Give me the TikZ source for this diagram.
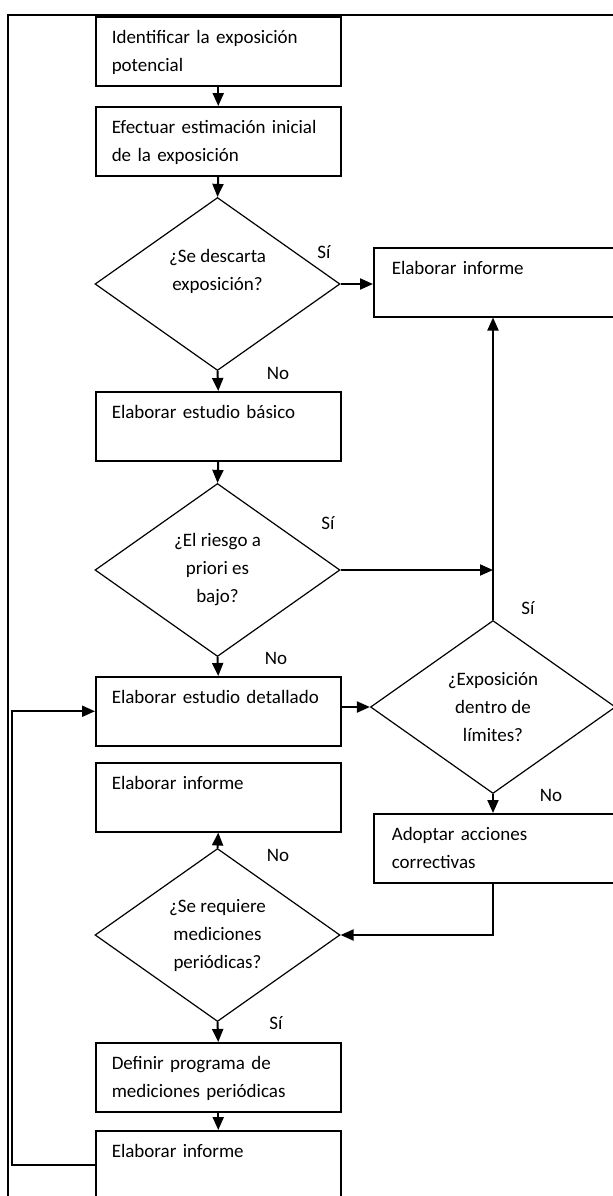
\documentclass[tikz,border=0pt]{standalone}
\usepackage{fontspec}
\setmainfont{Carlito}
\usetikzlibrary{shapes.geometric,arrows.meta}

\begin{document}
\begin{tikzpicture}[x=0.5pt,y=-0.5pt,
    font=\fontsize{9.5}{14}\selectfont,
    caja/.style={draw,line width=0.75pt,anchor=north west,align=left,
        minimum width=122.5pt,text width=106.5pt,inner xsep=8pt,inner ysep=0pt,
        text height=13.5pt,text depth=21pt},
    cajader/.style={caja,text width=117pt,inner xsep=9pt},
    rombo/.style={draw,diamond,line width=0.6pt,aspect=1.4,inner sep=0pt,
        minimum width=122.5pt,minimum height=86.5pt,align=center},
    flecha/.style={line width=1pt,-{Triangle[length=6.5pt,width=5.5pt]}},
    resp/.style={inner sep=0pt}]
                \useasboundingbox(0,0)rectangle(613,1196);
                \clip(0,0)rectangle(613,1196);
                % marco
                \draw[line width=1.3pt](8,1230)--(8,15)--(640,15);
                % columna izquierda
                \node[caja](b1) at (95,16){Identificar la exposición\\potencial};
                \node[caja](b2) at (95,106){Efectuar estimación inicial\\de la exposición};
                \node[rombo](d1) at (217.5,284){¿Se descarta\\exposición?\\\mbox{}};
                \node[caja](b3) at (95,391){Elaborar estudio básico};
                \node[rombo](d2) at (217.5,570){¿El riesgo a\\priori es\\bajo?};
                \node[caja](b4) at (95,676){Elaborar estudio detallado};
                \node[caja](b5) at (95,762){Elaborar informe};
                \node[rombo](d4) at (217.5,935){¿Se requiere\\mediciones\\periódicas?};
                \node[caja](b6) at (95,1042){Definir programa de\\mediciones periódicas};
                \node[caja](b7) at (95,1130){Elaborar informe};
                % columna derecha
                \node[cajader](r1) at (373,247){Elaborar informe};
                \node[rombo](d3) at (493,707){¿Exposición\\dentro de\\límites?};
                \node[cajader](r2) at (373,813){Adoptar acciones\\correctivas};
                \coordinate(vuelta) at (11.5,0);
                % flechas
                \draw[flecha](b1.south)--(b2.north);
                \draw[flecha](b2.south)--(d1.north);
                \draw[flecha](d1.east)--(r1.west|-d1.east);
                \draw[flecha](d1.south)--(b3.north);
                \draw[flecha](b3.south)--(d2.north);
                \draw[flecha](d2.east)--(d2.east-|d3.north);
                \draw[flecha](d2.south)--(b4.north);
                \draw[flecha](b4.east|-d3.west)--(d3.west);
                \draw[flecha](d3.north)--(d3.north|-r1.south);
                \draw[flecha](d3.south)--(d3.south|-r2.north);
                \draw[flecha](d3.south|-r2.south)|-(d4.east);
                \draw[flecha](d4.north)--(b5.south);
                \draw[flecha](d4.south)--(b6.north);
                \draw[flecha](b6.south)--(b7.north);
                \draw[flecha](b7.west)--(b7.west-|vuelta)--(vuelta|-b4.west)--(b4.west);
                % respuestas
                \node[resp](s1) at (324,252){Sí};
                \node[resp](n1) at (278,373){No};
                \node[resp](s2) at (328,523){Sí};
                \node[resp](n2) at (276,658){No};
                \node[resp](s3) at (528,608){Sí};
                \node[resp](n3) at (551,795){No};
                \node[resp](n4) at (278,855){No};
                \node[resp](s4) at (276,1023){Sí};
            \end{tikzpicture}
\end{document}
